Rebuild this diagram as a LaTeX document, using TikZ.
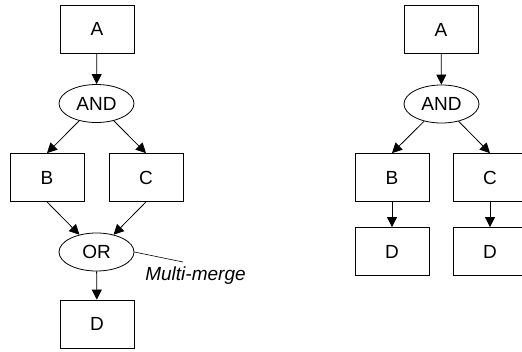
\documentclass[tikz,border=0pt]{standalone}
\usepackage{fontspec}
\setmainfont{Liberation Sans}
\usetikzlibrary{shapes.geometric,arrows.meta}

\begin{document}
\begin{tikzpicture}[x=1pt, y=-1pt, line width=0.8pt,
    font=\fontsize{19}{21}\selectfont,
    box/.style={draw, minimum width=74pt, minimum height=48pt, inner sep=0pt},
    gate/.style={ellipse, draw, minimum width=75pt, minimum height=38pt, inner sep=0pt},
    flow/.style={-{Triangle[length=10pt, width=10pt]}}]
                    \useasboundingbox (0,0) rectangle (522,351);
                    \node[box] (A) at (97, 29) {A};
                    \node[gate] (AND) at (96.5, 103.5) {AND};
                    \node[box] (B) at (47, 177.5) {B};
                    \node[box] (C) at (146, 177.5) {C};
                    \node[gate] (OR) at (96.5, 252) {OR};
                    \node[box] (D) at (97, 324) {D};
                    \node[font=\fontsize{19}{21}\selectfont\itshape] (MM) at (195.5, 276) {Multi-merge};
                    \coordinate (m) at (183, 262);
                    \draw[flow] (A) -- (AND);
                    \draw[flow] (AND) -- (B.north);
                    \draw[flow] (AND) -- (C.north);
                    \draw[flow] (B.south) -- (OR);
                    \draw[flow] (C.south) -- (OR);
                    \draw[flow] (OR) -- (D);
                    \draw[line width=0.6pt] (OR.east) -- (m);

                    \node[box] (A2) at (441, 29.5) {A};
                    \node[gate] (AND2) at (441.5, 104) {AND};
                    \node[box] (B2) at (392, 177.5) {B};
                    \node[box] (C2) at (490, 177.5) {C};
                    \node[box] (D2) at (392, 251.5) {D};
                    \node[box] (D3) at (490, 251.5) {D};
                    \draw[flow] (A2) -- (AND2);
                    \draw[flow] (AND2) -- (B2.north);
                    \draw[flow] (AND2) -- (C2.north);
                    \draw[flow] (B2) -- (D2);
                    \draw[flow] (C2) -- (D3);
                \end{tikzpicture}
\end{document}
